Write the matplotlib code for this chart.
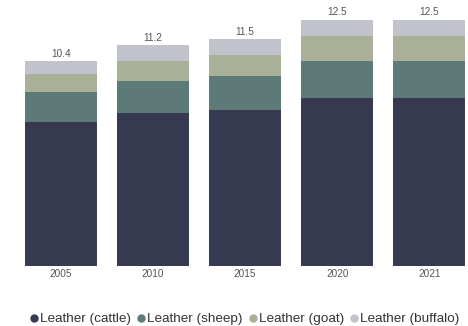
import numpy as np
import matplotlib.pyplot as plt
from matplotlib.lines import Line2D

plt.rcParams['font.family'] = ['Liberation Sans', 'DejaVu Sans']

years = ['2005', '2010', '2015', '2020', '2021']
cattle = [7.31, 7.76, 7.91, 8.52, 8.52]
sheep = [1.52, 1.62, 1.73, 1.88, 1.88]
goat = [0.91, 1.01, 1.07, 1.27, 1.27]
buffalo = [0.66, 0.81, 0.79, 0.83, 0.83]
totals = [10.4, 11.2, 11.5, 12.5, 12.5]

series = [('Leather (cattle)', cattle, '#353a50'),
          ('Leather (sheep)', sheep, '#5e7a78'),
          ('Leather (goat)', goat, '#a8b098'),
          ('Leather (buffalo)', buffalo, '#c1c3cc')]

fig = plt.figure(figsize=(4.68, 3.26), dpi=100)
ax = fig.add_axes([15 / 468, 1 - 266 / 326, 453 / 468, 266 / 326])

x = np.arange(len(years))
bottom = np.zeros(len(years))
handles = []
for name, vals, col in series:
    ax.bar(x, vals, 0.78, bottom=bottom, color=col, linewidth=0)
    bottom += np.array(vals)
    handles.append(Line2D([], [], marker='o', linestyle='', color=col,
                          markersize=5, label=name))

for i, t in enumerate(totals):
    ax.text(x[i], bottom[i] + 0.12, f'{t:.1f}', ha='center', va='bottom',
            fontsize=7.2, color='#555555')

ax.set_xlim(-0.5, 4.42)
ax.set_ylim(0, 13.5)
ax.set_xticks(x)
ax.set_xticklabels(years, fontsize=7.2, color='#555555')
ax.tick_params(axis='x', length=0, pad=2.5)
ax.set_yticks([])
for s in ax.spines.values():
    s.set_visible(False)

fig.legend(handles=handles, loc='center', bbox_to_anchor=(245 / 468, 1 - 319 / 326),
           ncol=4, frameon=False, fontsize=9.7, handlelength=0.6, handletextpad=0.15,
           columnspacing=0.45, labelcolor='#333333', borderaxespad=0, borderpad=0)

fig.savefig('out.png', dpi=100)
